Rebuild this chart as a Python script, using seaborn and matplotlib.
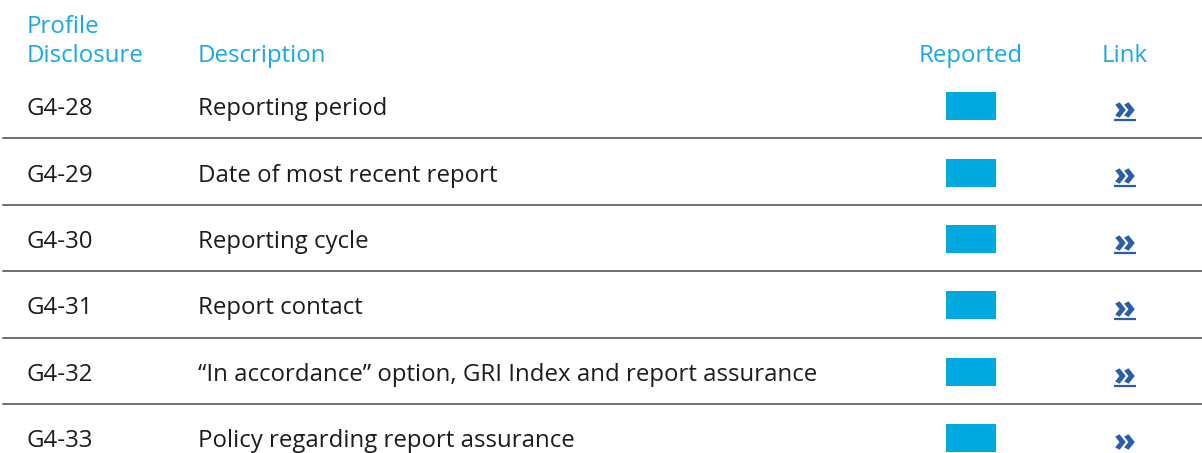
import matplotlib
matplotlib.use("Agg")
import matplotlib.pyplot as plt
import seaborn as sns
import pandas as pd

codes = ["G4-28", "G4-29", "G4-30", "G4-31", "G4-32", "G4-33"]
descriptions = [
    "Reporting period",
    "Date of most recent report",
    "Reporting cycle",
    "Report contact",
    "\u201cIn accordance\u201d option, GRI Index and report assurance",
    "Policy regarding report assurance",
]
reported = [1, 1, 1, 1, 1, 1]
link_underlined = [True, True, True, True, True, False]
headers = ["Profile\nDisclosure", "Description", "Reported", "Link"]

sns.set_theme(style="white")
plt.rcParams["font.family"] = ["Open Sans", "DejaVu Sans"]

W, H = 1202, 453
fig = plt.figure(figsize=(W / 100, H / 100), dpi=100)
ax = fig.add_axes([0, 0, 1, 1])
ax.set_xlim(0, W)
ax.set_ylim(H, 0)
ax.axis("off")

HEAD = "#1aa8e0"
TXT = "#1c1c1c"
BLUE = "#00a9e0"
LINK = "#2b5ea6"
FS = 17.25

x_code, x_desc, x_rep, x_link = 27, 198, 971, 1124.5
row0, step = 106.2, 66.4

# headers
ax.text(x_code, 61.5, headers[0], color=HEAD, fontsize=FS, ha="left", va="baseline", linespacing=1.27)
ax.text(x_desc, 61.5, headers[1], color=HEAD, fontsize=FS, ha="left", va="baseline")
ax.text(x_rep, 61.5, headers[2], color=HEAD, fontsize=FS, ha="center", va="baseline")
ax.text(x_link, 61.5, headers[3], color=HEAD, fontsize=FS, ha="center", va="baseline")

df = pd.DataFrame({"code": codes, "desc": descriptions, "rep": reported, "ul": link_underlined})
df["y"] = [row0 + i * step for i in range(len(df))]

# reported boxes
rep = df[df["rep"] == 1]
ax.barh(rep["y"], [50] * len(rep), left=x_rep - 25, height=28, color=BLUE, linewidth=0)

for i, r in df.iterrows():
    y = r["y"]
    ax.text(x_code, y + 9, r["code"], color=TXT, fontsize=FS, ha="left", va="baseline")
    ax.text(x_desc, y + 9, r["desc"], color=TXT, fontsize=FS, ha="left", va="baseline")
    ax.text(x_link, y + 1.0, "\u00bb", color=LINK, fontsize=23, fontweight="heavy",
            ha="center", va="center_baseline", family=["Open Sans", "DejaVu Sans"])
    if r["ul"]:
        ax.plot([x_link - 11, x_link + 11], [y + 13.8, y + 13.8], color=LINK, lw=1.6, solid_capstyle="butt")
    if i < len(df) - 1:
        ax.plot([3, W], [y + 32.2, y + 32.2], color="#707070", lw=1.4)

fig.savefig("out.png", dpi=100)
